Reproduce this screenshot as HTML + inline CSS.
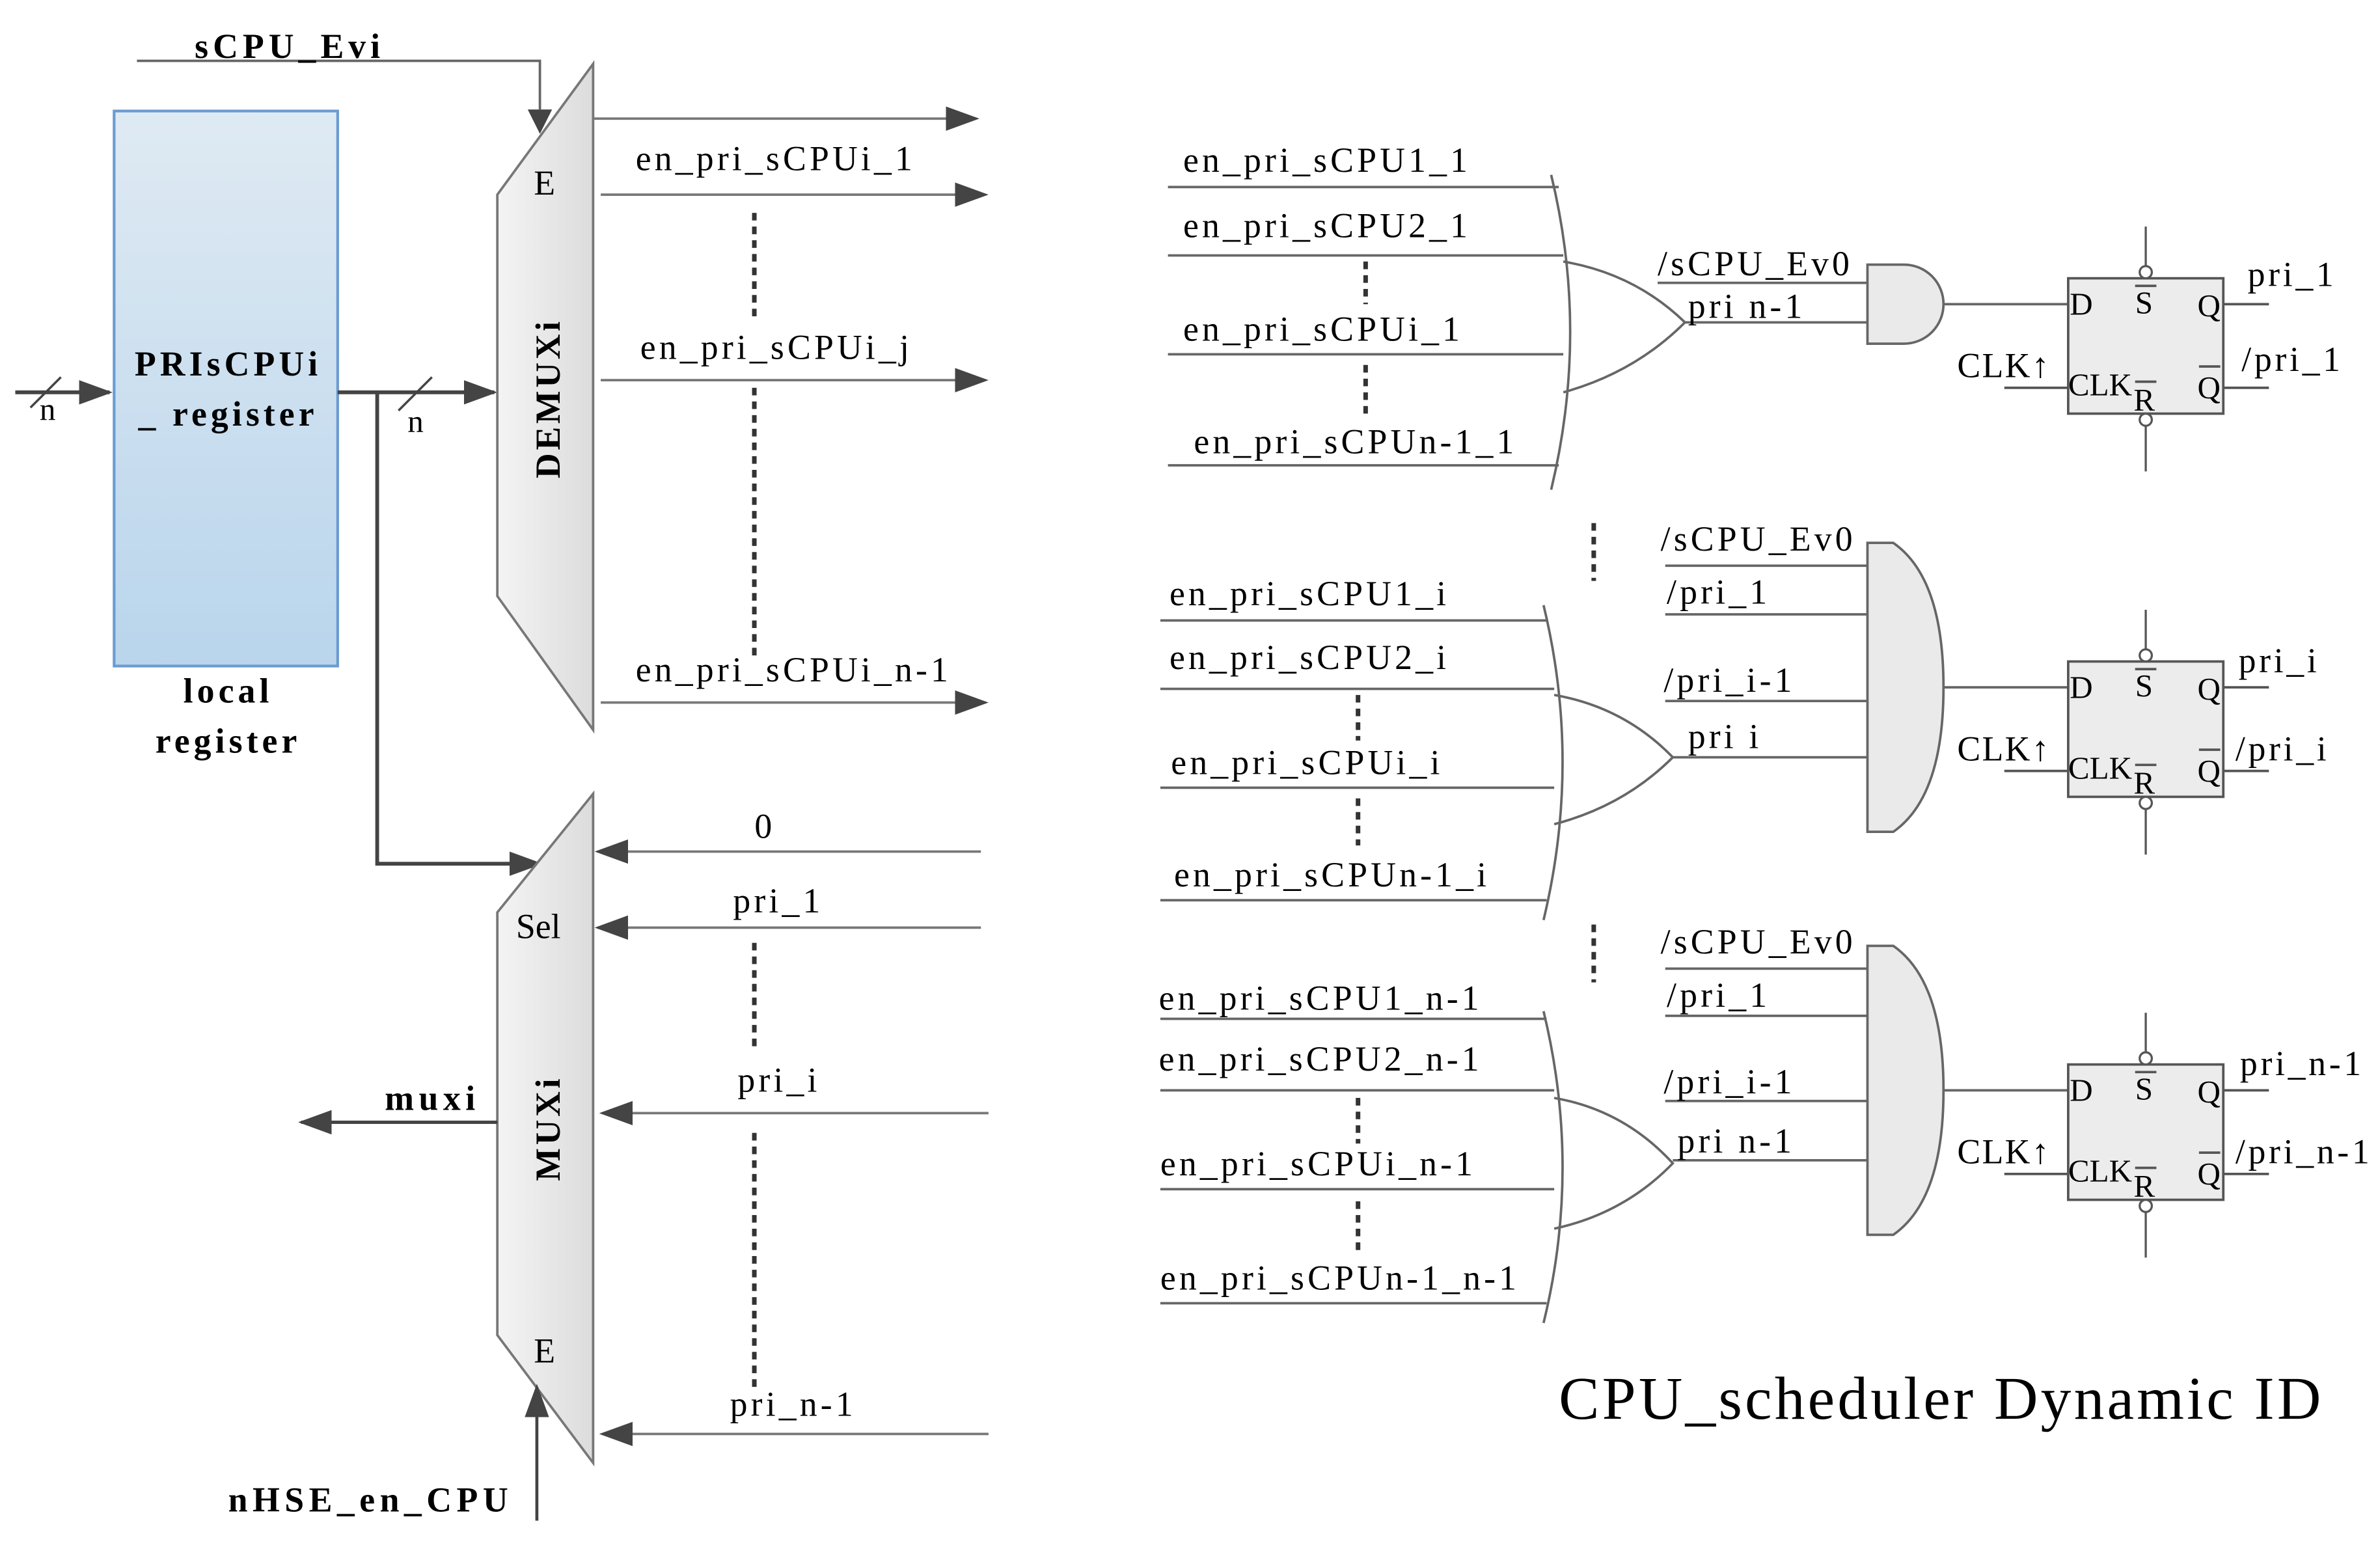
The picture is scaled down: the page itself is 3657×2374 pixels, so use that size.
<!DOCTYPE html>
<html><head><meta charset="utf-8"><style>
html,body{margin:0;padding:0;background:#fff;}
svg{display:block;}
text{font-family:"Liberation Serif",serif;fill:#000;}
</style></head><body>
<svg width="3657" height="2374" viewBox="0 0 1565 1016" xmlns="http://www.w3.org/2000/svg">
<defs>
<linearGradient id="reg" x1="0" y1="0" x2="0" y2="1"><stop offset="0" stop-color="#dfeaf3"/><stop offset="1" stop-color="#b9d5ec"/></linearGradient>
<linearGradient id="mx" x1="0" y1="0" x2="1" y2="0"><stop offset="0" stop-color="#f4f4f4"/><stop offset="1" stop-color="#dcdcdc"/></linearGradient>
<marker id="ab" markerWidth="22" markerHeight="16" refX="20" refY="8" orient="auto" markerUnits="userSpaceOnUse" viewBox="0 0 22 16"><path d="M0,0 L22,8 L0,16 z" fill="#444"/></marker>
</defs>
<g stroke="#666" stroke-width="1.6" fill="none">
<polyline points="90,40 355,40 355,72"/>
</g>
<path d="M347,72 L363,72 L355,88 z" fill="#444"/>
<g font-size="23" font-weight="bold" letter-spacing="3">
<text x="128" y="38">sCPU_Evi</text>
</g>
<rect x="75" y="73" width="147" height="365" fill="url(#reg)" stroke="#6b9bd0" stroke-width="1.8"/>
<g font-size="23" font-weight="bold" letter-spacing="2.6" text-anchor="middle">
<text x="150" y="247">PRIsCPUi</text>
<text x="150" y="280">_ register</text>
<text x="150" y="462">local</text>
<text x="150" y="495">register</text>
</g>
<line x1="10" y1="258" x2="72" y2="258" stroke="#444" stroke-width="2.5" marker-end="url(#ab)"/>
<line x1="20" y1="268" x2="40" y2="248" stroke="#444" stroke-width="1.5"/>
<text x="26" y="276" font-size="21">n</text>
<line x1="222" y1="258" x2="325" y2="258" stroke="#444" stroke-width="2.5" marker-end="url(#ab)"/>
<line x1="262" y1="270" x2="284" y2="248" stroke="#444" stroke-width="1.5"/>
<text x="268" y="284" font-size="21">n</text>
<polyline points="248,258 248,568 355,568" fill="none" stroke="#444" stroke-width="2.5" marker-end="url(#ab)"/>
<polygon points="327,128 390,42 390,480 327,392" fill="url(#mx)" stroke="#777" stroke-width="1.6"/>
<text x="358" y="128" font-size="23" text-anchor="middle">E</text>
<text transform="translate(368,262) rotate(-90)" font-size="23" font-weight="bold" letter-spacing="2" text-anchor="middle">DEMUXi</text>
<g stroke="#777" stroke-width="1.6">
<line x1="390" y1="78" x2="642" y2="78" marker-end="url(#ab)"/>
<line x1="395" y1="128" x2="648" y2="128" marker-end="url(#ab)"/>
<line x1="395" y1="250" x2="648" y2="250" marker-end="url(#ab)"/>
<line x1="395" y1="462" x2="648" y2="462" marker-end="url(#ab)"/>
</g>
<g font-size="23" letter-spacing="2.2">
<text x="418" y="112">en_pri_sCPUi_1</text>
<text x="421" y="236">en_pri_sCPUi_j</text>
<text x="418" y="448">en_pri_sCPUi_n-1</text>
</g>
<g stroke="#333" stroke-width="3" stroke-dasharray="5,4">
<line x1="496" y1="140" x2="496" y2="210"/>
<line x1="496" y1="255" x2="496" y2="432"/>
<line x1="496" y1="620" x2="496" y2="690"/>
<line x1="496" y1="745" x2="496" y2="912"/>
</g>
<polygon points="327,600 390,522 390,962 327,878" fill="url(#mx)" stroke="#777" stroke-width="1.6"/>
<text x="354" y="617" font-size="23" text-anchor="middle">Sel</text>
<text x="358" y="896" font-size="23" text-anchor="middle">E</text>
<text transform="translate(368,742) rotate(-90)" font-size="23" font-weight="bold" letter-spacing="2" text-anchor="middle">MUXi</text>
<g stroke="#777" stroke-width="1.6">
<line x1="645" y1="560" x2="393" y2="560" marker-end="url(#ab)"/>
<line x1="645" y1="610" x2="393" y2="610" marker-end="url(#ab)"/>
<line x1="650" y1="732" x2="396" y2="732" marker-end="url(#ab)"/>
<line x1="650" y1="943" x2="396" y2="943" marker-end="url(#ab)"/>
<line x1="327" y1="738" x2="198" y2="738" stroke="#444" stroke-width="2.2" marker-end="url(#ab)"/>
<line x1="353" y1="1000" x2="353" y2="912" stroke="#444" stroke-width="2" marker-end="url(#ab)"/>
</g>
<g font-size="23" letter-spacing="2.2">
<text x="503" y="551" text-anchor="middle">0</text>
<text x="482" y="600">pri_1</text>
<text x="485" y="718">pri_i</text>
<text x="480" y="931">pri_n-1</text>
</g>
<g font-size="23" font-weight="bold" letter-spacing="3.2">
<text x="253" y="730">muxi</text>
<text x="150" y="994">nHSE_en_CPU</text>
</g>

<g stroke="#666" stroke-width="1.6" fill="none">
<line x1="768" y1="123" x2="1025" y2="123"/>
<line x1="768" y1="168" x2="1028" y2="168"/>
<line x1="768" y1="233" x2="1028" y2="233"/>
<line x1="768" y1="306" x2="1025" y2="306"/>
<path d="M1020,115 Q1045,218 1020,322"/>
<path d="M1028,172 Q1075,180 1108,212 Q1075,245 1028,258"/>
<line x1="1090" y1="186" x2="1228" y2="186"/>
<line x1="1108" y1="212" x2="1228" y2="212"/>
<path d="M1228,174 L1252,174 A26,26 0 0 1 1252,226 L1228,226 Z" fill="#eaeaea"/>
<line x1="1278" y1="200" x2="1360" y2="200"/>
<line x1="763" y1="408" x2="1017" y2="408"/>
<line x1="763" y1="453" x2="1022" y2="453"/>
<line x1="763" y1="518" x2="1022" y2="518"/>
<line x1="763" y1="592" x2="1017" y2="592"/>
<path d="M1015,398 Q1040,501 1015,605"/>
<path d="M1022,457 Q1068,465 1100,498 Q1068,530 1022,542"/>
<line x1="1095" y1="372" x2="1228" y2="372"/>
<line x1="1095" y1="404" x2="1228" y2="404"/>
<line x1="1095" y1="461" x2="1228" y2="461"/>
<line x1="1100" y1="498" x2="1228" y2="498"/>
<path d="M1228,357 L1245,357 Q1278,380 1278,452 Q1278,524 1245,547 L1228,547 Z" fill="#eaeaea"/>
<line x1="1278" y1="452" x2="1360" y2="452"/>
<line x1="763" y1="670" x2="1017" y2="670"/>
<line x1="763" y1="717" x2="1022" y2="717"/>
<line x1="763" y1="782" x2="1022" y2="782"/>
<line x1="763" y1="857" x2="1017" y2="857"/>
<path d="M1015,665 Q1040,768 1015,870"/>
<path d="M1022,722 Q1068,730 1100,765 Q1068,798 1022,808"/>
<line x1="1095" y1="637" x2="1228" y2="637"/>
<line x1="1095" y1="668" x2="1228" y2="668"/>
<line x1="1095" y1="724" x2="1228" y2="724"/>
<line x1="1100" y1="763" x2="1228" y2="763"/>
<path d="M1228,622 L1245,622 Q1278,645 1278,717 Q1278,789 1245,812 L1228,812 Z" fill="#eaeaea"/>
<line x1="1278" y1="717" x2="1360" y2="717"/>
</g>
<g stroke="#333" stroke-width="3" stroke-dasharray="5,4">
<line x1="898" y1="172" x2="898" y2="200"/>
<line x1="898" y1="240" x2="898" y2="272"/>
<line x1="893" y1="457" x2="893" y2="487"/>
<line x1="893" y1="525" x2="893" y2="556"/>
<line x1="893" y1="722" x2="893" y2="752"/>
<line x1="893" y1="790" x2="893" y2="822"/>
<line x1="1048" y1="344" x2="1048" y2="382"/>
<line x1="1048" y1="608" x2="1048" y2="646"/>
</g>
<g font-size="23" letter-spacing="2.2">
<text x="778" y="113">en_pri_sCPU1_1</text>
<text x="778" y="156">en_pri_sCPU2_1</text>
<text x="778" y="224">en_pri_sCPUi_1</text>
<text x="785" y="298">en_pri_sCPUn-1_1</text>
<text x="1090" y="181">/sCPU_Ev0</text>
<text x="1110" y="209">pri n-1</text>
<text x="769" y="398">en_pri_sCPU1_i</text>
<text x="769" y="440">en_pri_sCPU2_i</text>
<text x="770" y="509">en_pri_sCPUi_i</text>
<text x="772" y="583">en_pri_sCPUn-1_i</text>
<text x="1092" y="362">/sCPU_Ev0</text>
<text x="1096" y="397">/pri_1</text>
<text x="1094" y="455">/pri_i-1</text>
<text x="1110" y="492">pri i</text>
<text x="762" y="664">en_pri_sCPU1_n-1</text>
<text x="762" y="704">en_pri_sCPU2_n-1</text>
<text x="763" y="773">en_pri_sCPUi_n-1</text>
<text x="763" y="848">en_pri_sCPUn-1_n-1</text>
<text x="1092" y="627">/sCPU_Ev0</text>
<text x="1096" y="662">/pri_1</text>
<text x="1094" y="719">/pri_i-1</text>
<text x="1103" y="758">pri n-1</text>
</g>

<g transform="translate(1360,183)">
<rect x="0" y="0" width="102" height="89" fill="#ececec" stroke="#555" stroke-width="1.6"/>
<g stroke="#555" stroke-width="1.4" fill="#fff"><line x1="51" y1="-34" x2="51" y2="-8"/><circle cx="51" cy="-4" r="4"/><line x1="51" y1="97" x2="51" y2="127"/><circle cx="51" cy="93" r="4"/></g>
<g stroke="#555" stroke-width="1.6"><line x1="102" y1="17" x2="132" y2="17"/><line x1="102" y1="72" x2="132" y2="72"/><line x1="-42" y1="72" x2="0" y2="72"/><line x1="44" y1="5" x2="58" y2="5"/><line x1="44" y1="68" x2="58" y2="68"/><line x1="86" y1="58" x2="100" y2="58"/></g>
<g font-size="21"><text x="1" y="24">D</text><text x="44" y="23">S</text><text x="85" y="25">Q</text><text x="0" y="77">CLK</text><text x="43" y="87">R</text><text x="85" y="79">Q</text><text x="-73" y="65" font-size="23" letter-spacing="1">CLK↑</text></g>
</g>
<g transform="translate(1360,435)">
<rect x="0" y="0" width="102" height="89" fill="#ececec" stroke="#555" stroke-width="1.6"/>
<g stroke="#555" stroke-width="1.4" fill="#fff"><line x1="51" y1="-34" x2="51" y2="-8"/><circle cx="51" cy="-4" r="4"/><line x1="51" y1="97" x2="51" y2="127"/><circle cx="51" cy="93" r="4"/></g>
<g stroke="#555" stroke-width="1.6"><line x1="102" y1="17" x2="132" y2="17"/><line x1="102" y1="72" x2="132" y2="72"/><line x1="-42" y1="72" x2="0" y2="72"/><line x1="44" y1="5" x2="58" y2="5"/><line x1="44" y1="68" x2="58" y2="68"/><line x1="86" y1="58" x2="100" y2="58"/></g>
<g font-size="21"><text x="1" y="24">D</text><text x="44" y="23">S</text><text x="85" y="25">Q</text><text x="0" y="77">CLK</text><text x="43" y="87">R</text><text x="85" y="79">Q</text><text x="-73" y="65" font-size="23" letter-spacing="1">CLK↑</text></g>
</g>
<g transform="translate(1360,700)">
<rect x="0" y="0" width="102" height="89" fill="#ececec" stroke="#555" stroke-width="1.6"/>
<g stroke="#555" stroke-width="1.4" fill="#fff"><line x1="51" y1="-34" x2="51" y2="-8"/><circle cx="51" cy="-4" r="4"/><line x1="51" y1="97" x2="51" y2="127"/><circle cx="51" cy="93" r="4"/></g>
<g stroke="#555" stroke-width="1.6"><line x1="102" y1="17" x2="132" y2="17"/><line x1="102" y1="72" x2="132" y2="72"/><line x1="-42" y1="72" x2="0" y2="72"/><line x1="44" y1="5" x2="58" y2="5"/><line x1="44" y1="68" x2="58" y2="68"/><line x1="86" y1="58" x2="100" y2="58"/></g>
<g font-size="21"><text x="1" y="24">D</text><text x="44" y="23">S</text><text x="85" y="25">Q</text><text x="0" y="77">CLK</text><text x="43" y="87">R</text><text x="85" y="79">Q</text><text x="-73" y="65" font-size="23" letter-spacing="1">CLK↑</text></g>
</g>
<g font-size="23" letter-spacing="2">
<text x="1478" y="188">pri_1</text>
<text x="1474" y="244">/pri_1</text>
<text x="1472" y="442">pri_i</text>
<text x="1470" y="500">/pri_i</text>
<text x="1473" y="707">pri_n-1</text>
<text x="1470" y="765">/pri_n-1</text>
</g>
<text x="1025" y="933" font-size="40" letter-spacing="1.8">CPU_scheduler Dynamic ID</text>
</svg>
</body></html>
